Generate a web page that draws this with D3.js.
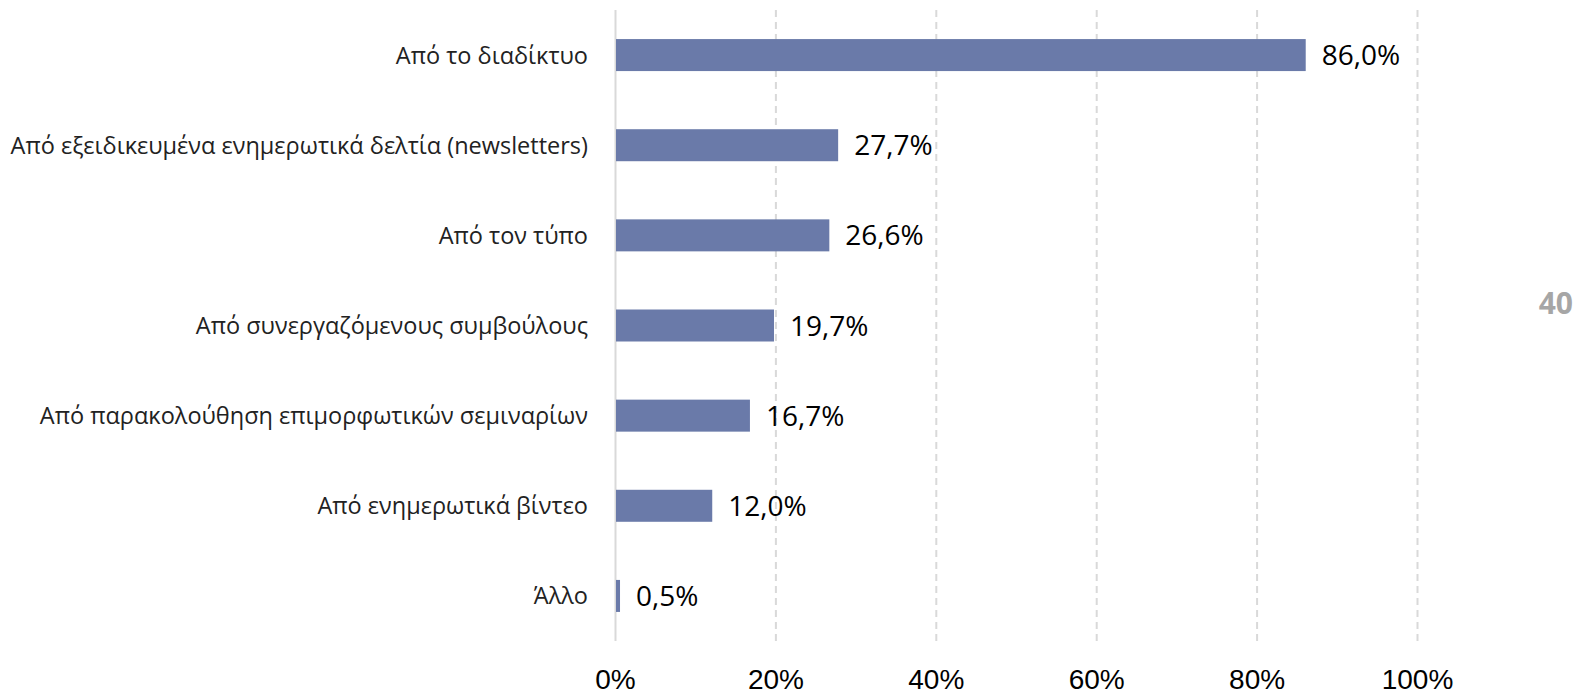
<!DOCTYPE html>
<html>
<head>
<meta charset="utf-8">
<script src="https://cdn.jsdelivr.net/npm/d3@7"></script>
<style>
  body { margin: 0; background: #fff; }
  svg { display: block; font-family: 'Open Sans', sans-serif; }
</style>
</head>
<body>
<svg id="chart" width="1577" height="696"></svg>
<script>
// data
const categories = [
  'Από το διαδίκτυο',
  'Από εξειδικευμένα ενημερωτικά δελτία (newsletters)',
  'Από τον τύπο',
  'Από συνεργαζόμενους συμβούλους',
  'Από παρακολούθηση επιμορφωτικών σεμιναρίων',
  'Από ενημερωτικά βίντεο',
  'Άλλο'
];
const values = [86.0, 27.7, 26.6, 19.7, 16.7, 12.0, 0.5];
const xTicks = [0, 20, 40, 60, 80, 100];
const pageNumber = '40';

const svg = d3.select('#chart');
const plotLeft = 615;
const plotRight = 1417;
const plotTop = 10;
const plotBottom = 641;

// x scale (percent)
const xScale = d3.scaleLinear()
  .domain([0, 100])
  .range([plotLeft, plotRight]);
// y scale (categories)
const yScale = d3.scaleBand()
  .domain(categories)
  .range([plotTop, plotBottom])
  .paddingInner(0.645)
  .paddingOuter(0.3225);

// grid + tick labels
const xAxis = d3.axisBottom(xScale)
  .tickValues(xTicks)
  .tickSize(-(plotBottom - plotTop))
  .tickPadding(28)
  .tickFormat(d => `${d}%`);
const axis = svg.append('g')
  .attr('class', 'axis')
  .attr('transform', `translate(0,${plotBottom})`)
  .call(xAxis);
axis.select('.domain').remove();
axis.selectAll('.tick line')
  .attr('stroke', '#d9d9d9')
  .attr('stroke-width', 2)
  .attr('stroke-dasharray', d => (d === 0 ? null : '7,5'));
axis.selectAll('.tick text')
  .attr('fill', '#000')
  .style('font-size', '28px');

// bars
svg.append('g').selectAll('rect')
  .data(values)
  .enter()
  .append('rect')
  .attr('x', xScale(0) + 1)
  .attr('y', (d, i) => yScale(categories[i]))
  .attr('width', d => xScale(d) - xScale(0))
  .attr('height', yScale.bandwidth())
  .attr('fill', '#6a7aa9');

// value labels
svg.append('g').selectAll('text')
  .data(values)
  .enter()
  .append('text')
  .attr('x', d => xScale(d) + 17)
  .attr('y', (d, i) => yScale(categories[i]) + yScale.bandwidth() / 2)
  .attr('dy', '0.36em')
  .attr('fill', '#000')
  .style('font-size', '28px')
  .text(d => `${d.toFixed(1).replace('.', ',')}%`);

// category labels
svg.append('g').selectAll('text')
  .data(categories)
  .enter()
  .append('text')
  .attr('x', plotLeft - 27)
  .attr('y', d => yScale(d) + yScale.bandwidth() / 2)
  .attr('dy', '0.36em')
  .attr('text-anchor', 'end')
  .attr('fill', '#222')
  .style('font-size', '23.5px')
  .text(d => d);

// page number
svg.append('text')
  .attr('x', 1573)
  .attr('y', 314)
  .attr('text-anchor', 'end')
  .attr('fill', '#a6a6a6')
  .style('font-size', '30px')
  .style('font-weight', 'bold')
  .text(pageNumber);
</script>
</body>
</html>
